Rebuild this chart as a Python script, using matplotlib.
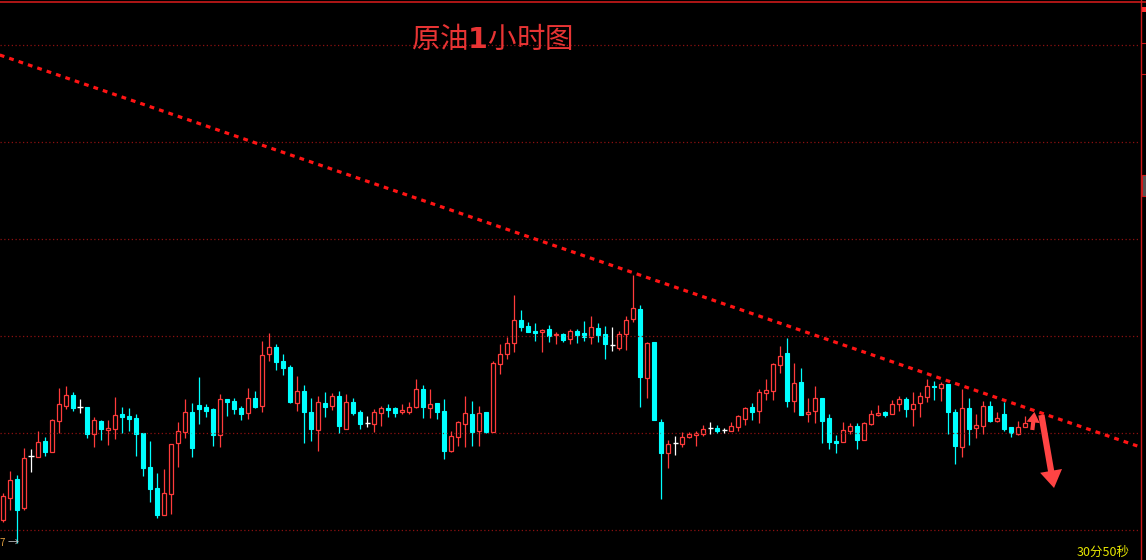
import matplotlib
matplotlib.use('Agg')
import matplotlib.pyplot as plt
from matplotlib.patches import Rectangle

plt.rcParams['font.family'] = ['Noto Sans CJK SC', 'DejaVu Sans']

# hourly crude oil candles (open / high / low / close)
opens = [49.80, 50.02, 50.21, 49.92, 50.44, 50.43, 50.59, 50.48, 50.79, 50.94,
         51.05, 50.93, 50.93, 50.66, 50.79, 50.70, 50.71, 50.86, 50.84, 50.82,
         50.67, 50.33, 50.12, 49.85, 50.06, 50.57, 50.68, 50.88, 50.95, 50.93,
         50.91, 50.65, 51.01, 50.99, 50.92, 50.87, 51.02, 50.94, 51.46, 51.53,
         51.39, 51.33, 50.97, 51.09, 50.88, 50.70, 50.97, 50.94, 51.04, 50.71,
         50.98, 50.88, 50.77, 50.76, 50.87, 50.92, 50.92, 50.88, 50.88, 50.93,
         51.11, 50.92, 50.97, 50.89, 50.49, 50.63, 50.76, 50.86, 50.69, 50.88,
         50.68, 51.36, 51.46, 51.57, 51.80, 51.74, 51.69, 51.68, 51.71, 51.65,
         51.66, 51.61, 51.69, 51.67, 51.63, 51.72, 51.66, 51.55, 51.52, 51.66,
         51.81, 51.91, 51.22, 51.58, 50.78, 50.47, 50.57, 50.56, 50.63, 50.65,
         50.66, 50.72, 50.72, 50.70, 50.69, 50.73, 50.81, 50.93, 50.89, 51.07,
         51.09, 51.35, 51.47, 50.99, 51.18, 50.86, 50.89, 51.02, 50.82, 50.59,
         50.58, 50.69, 50.74, 50.60, 50.76, 50.85, 50.88, 50.86, 50.96, 51.01,
         50.91, 50.97, 51.03, 51.14, 51.12, 51.16, 50.88, 50.53, 50.92, 50.72,
         50.74, 50.94, 50.79, 50.86, 50.73, 50.66, 50.73]
highs = [50.07, 50.29, 50.25, 50.52, 50.51, 50.69, 50.63, 50.81, 51.12, 51.14,
         51.08, 51.01, 50.93, 50.83, 50.80, 50.80, 51.03, 50.93, 50.92, 50.86,
         50.67, 50.59, 50.27, 50.31, 50.56, 50.78, 51.01, 50.97, 51.23, 50.96,
         50.92, 51.06, 51.01, 51.02, 50.94, 51.12, 51.09, 51.59, 51.67, 51.56,
         51.46, 51.35, 51.24, 51.15, 51.02, 51.04, 51.08, 51.07, 51.09, 51.06,
         51.02, 50.90, 50.84, 50.91, 50.94, 50.96, 50.93, 50.96, 50.98, 51.21,
         51.15, 51.11, 50.97, 51.01, 50.69, 50.79, 51.04, 50.99, 50.94, 50.88,
         51.39, 51.56, 51.63, 52.05, 51.90, 51.78, 51.77, 51.71, 51.75, 51.68,
         51.67, 51.71, 51.71, 51.79, 51.84, 51.77, 51.74, 51.73, 51.69, 51.84,
         52.25, 51.95, 51.58, 51.58, 50.81, 50.60, 50.64, 50.68, 50.68, 50.69,
         50.75, 50.78, 50.75, 50.72, 50.78, 50.85, 50.93, 50.97, 51.11, 51.21,
         51.37, 51.54, 51.62, 51.37, 51.32, 51.02, 51.14, 51.02, 50.86, 50.65,
         50.78, 50.77, 50.77, 50.78, 50.90, 50.95, 50.89, 51.00, 51.04, 51.03,
         51.08, 51.08, 51.21, 51.19, 51.18, 51.16, 50.91, 51.11, 51.02, 50.86,
         50.99, 50.99, 50.88, 50.98, 50.73, 50.79, 50.84]
lows = [49.78, 49.90, 49.57, 49.90, 50.28, 50.43, 50.44, 50.48, 50.67, 50.91,
        50.89, 50.87, 50.62, 50.53, 50.60, 50.55, 50.61, 50.67, 50.69, 50.44,
        50.24, 49.98, 49.82, 49.85, 49.86, 50.33, 50.62, 50.43, 50.76, 50.83,
        50.54, 50.53, 50.84, 50.86, 50.80, 50.81, 50.92, 50.88, 51.39, 51.30,
        51.25, 50.97, 50.89, 50.57, 50.59, 50.49, 50.83, 50.90, 50.67, 50.71,
        50.85, 50.71, 50.73, 50.68, 50.74, 50.83, 50.83, 50.86, 50.86, 50.92,
        50.82, 50.82, 50.81, 50.41, 50.48, 50.54, 50.53, 50.54, 50.54, 50.67,
        50.68, 51.26, 51.41, 51.48, 51.69, 51.68, 51.59, 51.48, 51.58, 51.56,
        51.58, 51.56, 51.57, 51.59, 51.56, 51.58, 51.41, 51.49, 51.50, 51.50,
        51.78, 50.93, 51.02, 50.80, 50.01, 50.32, 50.45, 50.53, 50.62, 50.54,
        50.64, 50.66, 50.67, 50.67, 50.69, 50.69, 50.75, 50.80, 50.77, 51.00,
        51.00, 51.27, 50.93, 50.88, 50.85, 50.78, 50.77, 50.57, 50.51, 50.47,
        50.58, 50.66, 50.51, 50.60, 50.75, 50.84, 50.83, 50.86, 50.89, 50.83,
        50.74, 50.83, 50.98, 51.00, 50.99, 50.66, 50.36, 50.43, 50.55, 50.62,
        50.66, 50.78, 50.78, 50.69, 50.63, 50.65, 50.73]
closes = [50.04, 50.20, 49.90, 50.42, 50.44, 50.58, 50.48, 50.80, 50.96, 51.05,
          50.92, 50.93, 50.66, 50.80, 50.71, 50.72, 50.85, 50.83, 50.81, 50.66,
          50.32, 50.11, 49.85, 50.07, 50.56, 50.69, 50.88, 50.52, 50.91, 50.89,
          50.65, 51.01, 50.98, 50.91, 50.86, 51.02, 50.93, 51.45, 51.53, 51.38,
          51.32, 50.98, 51.09, 50.88, 50.71, 50.98, 50.93, 51.04, 50.74, 50.98,
          50.87, 50.76, 50.77, 50.88, 50.92, 50.90, 50.87, 50.90, 50.93, 51.11,
          50.93, 50.96, 50.88, 50.49, 50.64, 50.78, 50.87, 50.68, 50.87, 50.68,
          51.37, 51.46, 51.57, 51.80, 51.73, 51.68, 51.67, 51.70, 51.64, 51.66,
          51.60, 51.69, 51.65, 51.63, 51.73, 51.65, 51.56, 51.55, 51.66, 51.80,
          51.92, 51.23, 51.57, 50.80, 50.47, 50.56, 50.57, 50.63, 50.66, 50.67,
          50.71, 50.72, 50.69, 50.70, 50.74, 50.84, 50.92, 50.88, 51.08, 51.10,
          51.36, 51.44, 50.99, 51.17, 50.85, 50.88, 51.02, 50.79, 50.58, 50.57,
          50.70, 50.74, 50.60, 50.77, 50.86, 50.87, 50.85, 50.96, 51.01, 50.91,
          50.96, 51.04, 51.14, 51.13, 51.16, 50.88, 50.54, 50.92, 50.71, 50.75,
          50.94, 50.79, 50.82, 50.71, 50.67, 50.73, 50.77]

# descending trend line (bar index, price)
trend_x = [-0.5, 162.0]
trend_y = [54.45, 50.54]

grid_levels = [54.55, 53.58, 52.61, 51.64, 50.67, 49.70]

title = '原油$\\mathbf{1}$小时图'
timer_text = '30分50秒'

UP = '#ff3b3b'
DOWN = '#00ffff'
DOJI = '#ffffff'
w = 0.6

fig = plt.figure(figsize=(11.46, 5.60), dpi=100, facecolor='black')
ax = fig.add_axes([0, 0, 1, 1])
ax.set_facecolor('black')
ax.set_xlim(-0.471, 163.24)
ax.set_ylim(49.40, 55.00)
ax.axis('off')

# dotted grid
ax.hlines(grid_levels, -0.5, 162.4, colors='#8c1010', linestyles=(0, (1, 2)), lw=0.9)

# candles
for i in range(len(opens)):
    o, h, l, c = opens[i], highs[i], lows[i], closes[i]
    if c > o:
        ax.vlines(i, c, h, color=UP, lw=0.9)
        ax.vlines(i, l, o, color=UP, lw=0.9)
        ax.add_patch(Rectangle((i - w / 2, o), w, c - o, facecolor='black',
                               edgecolor=UP, lw=0.9))
    elif c < o:
        ax.vlines(i, l, h, color=DOWN, lw=0.9)
        ax.add_patch(Rectangle((i - w / 2, c), w, o - c, facecolor=DOWN,
                               edgecolor=DOWN, lw=0.8))
    else:
        ax.vlines(i, l, h, color=DOJI, lw=0.9)
        ax.hlines(o, i - w / 2 - 0.1, i + w / 2 + 0.1, color=DOJI, lw=1.0)

# trend line
ax.plot(trend_x, trend_y, color='#ff1414', lw=2.3, ls=(0, (1.5, 1.6)))

# arrows
ax.annotate('', xy=(147.3, 50.88), xytext=(147.0, 50.70),
            arrowprops=dict(arrowstyle='simple,head_length=0.75,head_width=0.95,tail_width=0.3',
                            color='#ff4444', lw=0, shrinkA=0, shrinkB=0))
ax.annotate('', xy=(150.1, 50.12), xytext=(148.3, 50.85),
            arrowprops=dict(arrowstyle='simple,head_length=1.25,head_width=1.6,tail_width=0.45',
                            color='#ff4444', lw=0, shrinkA=0, shrinkB=0))

# frame lines
ax.axvline(162.53, color='#cc1a1a', lw=1.0)
ax.axhline(54.985, color='#cc1a1a', lw=1.2)

# right scroll markers
ax.add_patch(Rectangle((0.9965, 1 - 12 / 560), 0.0035, 5 / 560, transform=ax.transAxes,
                       facecolor='#ff3030', edgecolor='none'))
ax.add_patch(Rectangle((0.9965, 1 - 196 / 560), 0.0035, 21 / 560, transform=ax.transAxes,
                       facecolor='#555555', edgecolor='#cc1a1a', lw=0.8))
for yy in [43, 74]:
    ax.plot([0.9958, 1.0], [1 - yy / 560, 1 - yy / 560], transform=ax.transAxes,
            color='#cc1a1a', lw=0.8)

# texts
ax.text(0.429, 0.929, title, transform=ax.transAxes, color='#e83434',
        fontsize=20.5, ha='center', va='center')
ax.text(0.963, 0.014, timer_text, transform=ax.transAxes, color='#e6e600',
        fontsize=9, ha='center', va='center')
ax.text(0.0, 0.03, '7', transform=ax.transAxes, color='#e0a040',
        fontsize=7, ha='left', va='center')
ax.text(0.0065, 0.03, '→', transform=ax.transAxes, color='#c0c0c0',
        fontsize=8, ha='left', va='center')

fig.savefig('out.png', dpi=100, facecolor='black')
